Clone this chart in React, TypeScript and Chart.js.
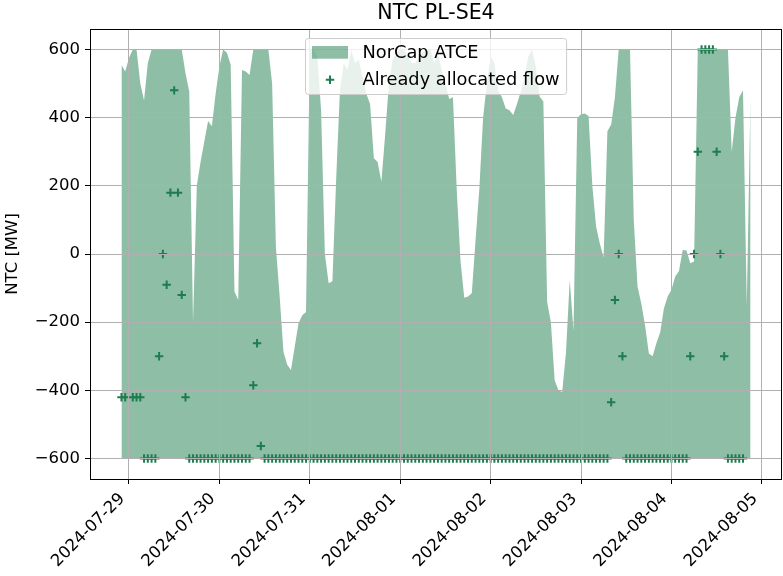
import React, { useEffect, useRef } from 'react';
import { Chart, registerables } from 'chart.js';

Chart.register(...registerables);

// Hourly series, first point 2024-07-28 22:00 (hour -2 relative to 2024-07-29 00:00)
const START_HOUR = -2;

const atce: number[] = [
  555, 535, 575, 600, 600, 500, 450, 560, 600, 600,
  600, 600, 600, 600, 600, 600, 600, 530, 476, -200,
  200, 270, 330, 390, 375, 470, 550, 600, 590, 555,
  -110, -135, 540, 535, 525, 600, 600, 600, 600, 600,
  500, 20, -125, -287, -325, -340, -272, -203, -180, -170,
  600, 600, 580, 420, 0, -86, -80, 220, 480, 560,
  540, 600, 560, 570, 520, 470, 440, 281, 270, 212,
  350, 500, 570, 590, 600, 600, 580, 560, 560, 580,
  590, 600, 600, 560, 590, 540, 500, 455, 460, 190,
  -20, -128, -125, -115, 40, 190, 400, 500, 580, 560,
  480, 460, 427, 422, 408, 440, 476, 520, 580, 600,
  550, 462, 447, -140, -200, -370, -400, -405, -290, -76,
  -225, 400, 410, 412, 405, 200, 80, 30, -10, 360,
  380, 460, 600, 600, 600, 600, 100, -95, -145, -210,
  -292, -300, -262, -230, -160, -125, -105, -66, -50, 12,
  10, -27, -22, 600, 600, 600, 600, 600, 600, 600,
  600, 600, 300, 400, 460, 480, -150, 460,
];

const allocated: (number | null)[] = [
  -420, -420, null, -420, -420, -420, -600, -600, -600, -600,
  -300, 0, -90, 180, 480, 180, -120, -420, -600, -600,
  -600, -600, -600, -600, -600, -600, -600, -600, -600, -600,
  -600, -600, -600, -600, -600, -385, -262, -563, -600, -600,
  -600, -600, -600, -600, -600, -600, -600, -600, -600, -600,
  -600, -600, -600, -600, -600, -600, -600, -600, -600, -600,
  -600, -600, -600, -600, -600, -600, -600, -600, -600, -600,
  -600, -600, -600, -600, -600, -600, -600, -600, -600, -600,
  -600, -600, -600, -600, -600, -600, -600, -600, -600, -600,
  -600, -600, -600, -600, -600, -600, -600, -600, -600, -600,
  -600, -600, -600, -600, -600, -600, -600, -600, -600, -600,
  -600, -600, -600, -600, -600, -600, -600, -600, -600, -600,
  -600, -600, -600, -600, -600, -600, -600, -600, -600, -600,
  -435, -135, 0, -300, -600, -600, -600, -600, -600, -600,
  -600, -600, -600, -600, -600, -600, -600, -600, -600, -600,
  -600, -300, 0, 300, 600, 600, 600, 600, 300, 0,
  -300, -600, -600, -600, -600, -600,
];

const xTickHours = [0, 24, 48, 72, 96, 120, 144, 168];
const xTickLabels = [
  '2024-07-29', '2024-07-30', '2024-07-31', '2024-08-01',
  '2024-08-02', '2024-08-03', '2024-08-04', '2024-08-05',
];
const yTicks = [-600, -400, -200, 0, 200, 400, 600];

const TITLE = 'NTC PL-SE4';
const Y_LABEL = 'NTC [MW]';
const LABEL_FILL = 'NorCap ATCE';
const LABEL_SCATTER = 'Already allocated flow';

const MARK = '#1e7d4e';
const FILL = 'rgba(30,125,78,0.5)';
const GRID = '#b0b0b0';
const FONT = '"DejaVu Sans", sans-serif';

const fmt = (v: number) => (v < 0 ? '\u2212' + Math.abs(v) : String(v));

const decor = {
  id: 'decor',
  afterDraw(chart: any) {
    const { ctx, chartArea: a, scales } = chart;
    ctx.save();
    // frame
    ctx.strokeStyle = '#000';
    ctx.lineWidth = 1;
    ctx.strokeRect(Math.round(a.left) + 0.5, Math.round(a.top) + 0.5,
      Math.round(a.right - a.left) - 1, Math.round(a.bottom - a.top));

    // title
    ctx.fillStyle = '#000';
    ctx.font = '20.5px ' + FONT;
    ctx.textAlign = 'center';
    ctx.textBaseline = 'alphabetic';
    ctx.fillText(TITLE, (a.left + a.right) / 2, 18.5);

    // y label
    ctx.save();
    ctx.translate(13, (a.top + a.bottom) / 2);
    ctx.rotate(-Math.PI / 2);
    ctx.font = '16.5px ' + FONT;
    ctx.textAlign = 'center';
    ctx.textBaseline = 'middle';
    ctx.fillText(Y_LABEL, 0, 0);
    ctx.restore();

    // x tick labels
    ctx.font = '16.5px ' + FONT;
    xTickHours.forEach((h, i) => {
      const px = scales.x.getPixelForValue(h);
      ctx.save();
      ctx.translate(px - 6.7, a.bottom + 17.3);
      ctx.rotate(-Math.PI / 4);
      ctx.textAlign = 'right';
      ctx.textBaseline = 'middle';
      ctx.fillText(xTickLabels[i], 0, 0);
      ctx.restore();
    });

    // legend
    ctx.font = '17.8px ' + FONT;
    const tw = Math.max(ctx.measureText(LABEL_FILL).width, ctx.measureText(LABEL_SCATTER).width);
    const boxW = 57 + tw + 7;
    const cx = (a.left + a.right) / 2;
    const bx = Math.round(cx - boxW / 2) + 0.5;
    const by = 38.5;
    ctx.beginPath();
    ctx.roundRect(bx, by, boxW, 56, 3);
    ctx.fillStyle = 'rgba(255,255,255,0.8)';
    ctx.fill();
    ctx.strokeStyle = '#cccccc';
    ctx.lineWidth = 1;
    ctx.stroke();
    ctx.fillStyle = FILL;
    ctx.fillRect(bx + 6.5, 46, 36, 12.7);
    ctx.strokeStyle = MARK;
    ctx.lineWidth = 2;
    const mx = bx + 24.5, my = 79.7, r = 4.2;
    ctx.beginPath();
    ctx.moveTo(mx - r, my); ctx.lineTo(mx + r, my);
    ctx.moveTo(mx, my - r); ctx.lineTo(mx, my + r);
    ctx.stroke();
    ctx.fillStyle = '#000';
    ctx.textAlign = 'left';
    ctx.textBaseline = 'alphabetic';
    ctx.fillText(LABEL_FILL, bx + 57, 58);
    ctx.fillText(LABEL_SCATTER, bx + 57, 84.7);
    ctx.restore();
  },
};

export default function App() {
  const ref = useRef<HTMLCanvasElement>(null);
  useEffect(() => {
    document.body.style.margin = '0';
    const hours = atce.map((_, i) => START_HOUR + i);
    const fillData = hours.map((h, i) => ({ x: h, y: atce[i] }));
    const scatterData = hours
      .map((h, i) => (allocated[i] === null ? null : { x: h, y: allocated[i] as number }))
      .filter((p) => p !== null);
    const gridOpts = {
      color: GRID,
      lineWidth: 1,
      z: 1,
      drawTicks: true,
      tickLength: 5,
      tickColor: '#000',
      tickWidth: 1,
    };
    const chart = new Chart(ref.current as HTMLCanvasElement, {
      type: 'line',
      data: {
        datasets: [
          {
            type: 'scatter',
            label: LABEL_SCATTER,
            data: scatterData as any,
            pointStyle: 'cross',
            radius: 4.2,
            borderWidth: 2,
            borderColor: MARK,
            backgroundColor: MARK,
            order: 0,
          } as any,
          {
            type: 'line',
            label: LABEL_FILL,
            data: fillData,
            fill: { value: -600 },
            backgroundColor: FILL,
            borderColor: 'rgba(0,0,0,0)',
            borderWidth: 1,
            pointRadius: 0,
            tension: 0,
            order: 1,
          } as any,
        ],
      },
      options: {
        animation: false,
        responsive: false,
        devicePixelRatio: 1,
        layout: { autoPadding: false, padding: { top: 29, right: 1, left: 0, bottom: 0 } },
        plugins: {
          legend: { display: false },
          title: { display: false },
          tooltip: { enabled: false },
        },
        scales: {
          x: {
            type: 'linear',
            min: -10.35,
            max: 173.35,
            afterBuildTicks: (s: any) => {
              s.ticks = xTickHours.map((v) => ({ value: v }));
            },
            afterFit: (s: any) => {
              s.height = 97;
            },
            ticks: { display: false },
            grid: gridOpts,
            border: { display: false },
          },
          y: {
            type: 'linear',
            min: -660,
            max: 660,
            afterBuildTicks: (s: any) => {
              s.ticks = yTicks.map((v) => ({ value: v }));
            },
            afterFit: (s: any) => {
              s.width = 90;
            },
            ticks: {
              color: '#000',
              padding: 5,
              font: { family: FONT, size: 16.5 },
              callback: (v: any) => fmt(Number(v)),
            },
            grid: gridOpts,
            border: { display: false },
          },
        },
      } as any,
      plugins: [decor],
    });
    return () => chart.destroy();
  }, []);
  return (
    <div style={{ position: 'absolute', left: 0, top: 0, width: 783, height: 576, background: '#fff' }}>
      <canvas ref={ref} width={783} height={576} style={{ display: 'block', width: 783, height: 576 }} />
    </div>
  );
}
